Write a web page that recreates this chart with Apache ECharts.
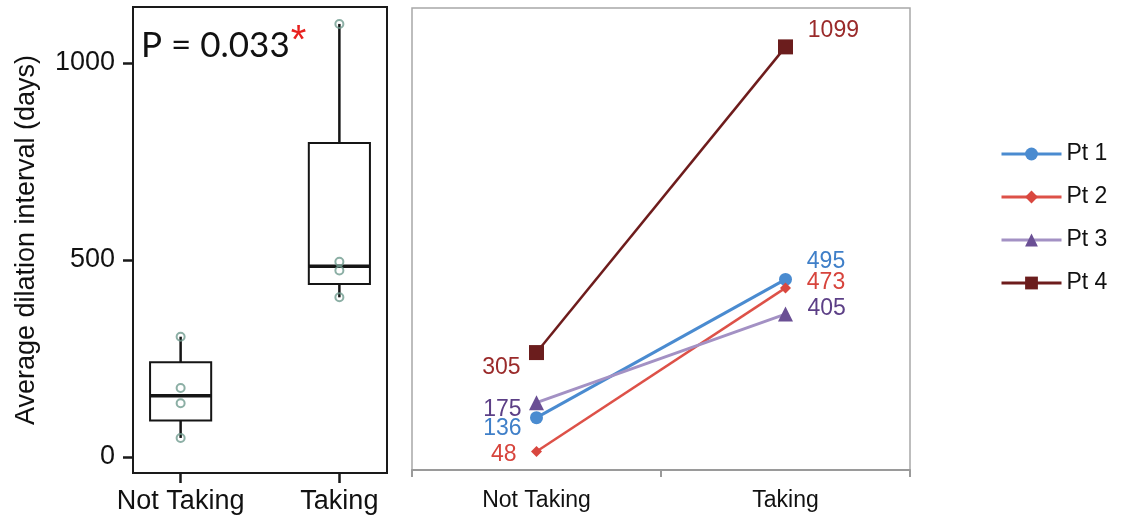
<!DOCTYPE html>
<html>
<head>
<meta charset="utf-8">
<script src="https://cdn.jsdelivr.net/npm/echarts@6/dist/echarts.min.js"></script>
<style>
html,body{margin:0;padding:0;background:#fff;}
#chart{width:1124px;height:527px;}
</style>
</head>
<body>
<div id="chart"></div>
<script>
// ---- data ----
const groups = ['Not Taking', 'Taking'];
const yTicks = [0, 500, 1000];
// box statistics: [min, Q1, median, Q3, max]
const boxNotTaking = [48, 92, 155, 240, 305];
const boxTaking = [405, 439, 484, 797, 1099];
// individual points
const pointsNotTaking = [305, 175, 136, 48];
const pointsTaking = [1099, 495, 473, 405];
// per patient
const patients = ['Pt 1', 'Pt 2', 'Pt 3', 'Pt 4'];
const pt1 = [136, 495];
const pt2 = [48, 473];
const pt3 = [175, 405];
const pt4 = [305, 1099];

const FONT = 'Liberation Sans, Arial, sans-serif';

const chart = echarts.init(document.getElementById('chart'));

function mkLabels(values, color, offs) {
  return values.map((v, i) => ({
    value: v,
    label: {
      show: true,
      position: i === 0 ? 'left' : 'right',
      distance: 0,
      offset: offs[i],
      color: color,
      fontSize: 23,
      fontFamily: FONT
    }
  }));
}

function patientSeries(name, values, lineColor, symColor, symbol, size, lw, labelColor, offs) {
  return {
    name: name,
    type: 'line',
    xAxisIndex: 1,
    yAxisIndex: 1,
    data: mkLabels(values, labelColor, offs),
    symbol: symbol,
    symbolSize: size,
    showAllSymbol: true,
    lineStyle: { color: lineColor, width: lw },
    itemStyle: { color: symColor },
    emphasis: { disabled: true },
    z: 3
  };
}

const option = {
  animation: false,
  backgroundColor: '#fff',
  title: {
    text: '{a|P = 0.033}{b|*}',
    left: 136,
    top: 17,
    textStyle: {
      fontWeight: 'normal',
      rich: {
        a: { fontSize: 35, fontFamily: 'Lato, sans-serif', fontWeight: 'normal', color: '#111' },
        b: { fontSize: 40, fontFamily: FONT, fontWeight: 'normal', color: '#e8201e', verticalAlign: 'top', padding: [0, 0, 8, 1] }
      }
    }
  },
  legend: {
    orient: 'vertical',
    left: 995,
    top: 137,
    itemWidth: 60,
    itemHeight: 16,
    itemGap: 19,
    data: patients,
    lineStyle: { width: 3 },
    textStyle: { fontSize: 23, fontFamily: FONT, color: '#111', lineHeight: 24 },
    selectedMode: false
  },
  grid: [
    { left: 133, top: 7, width: 254, height: 466, show: true, borderColor: '#1a1a1a', borderWidth: 2, backgroundColor: 'transparent' },
    { left: 412, top: 8, width: 498, height: 462, show: true, borderColor: '#a8a8a8', borderWidth: 1.5, backgroundColor: 'transparent' }
  ],
  xAxis: [
    {
      gridIndex: 0, type: 'value', min: 0.7, max: 2.3,
      axisLine: { show: true, onZero: false, lineStyle: { color: '#1a1a1a', width: 2 } },
      splitLine: { show: false },
      axisTick: { show: true, customValues: [1, 2], length: 10, lineStyle: { color: '#1a1a1a', width: 2.5 } },
      axisLabel: { customValues: [1, 2], formatter: v => groups[Math.round(v) - 1], fontSize: 27, fontFamily: FONT, color: '#111', margin: 15 }
    },
    {
      gridIndex: 1, type: 'category', data: groups, boundaryGap: true,
      axisLine: { show: true, onZero: false, lineStyle: { color: '#9a9a9a', width: 2 } },
      axisTick: { show: true, length: 7, lineStyle: { color: '#9a9a9a', width: 2 } },
      axisLabel: { fontSize: 23, fontFamily: FONT, color: '#111', margin: 19 },
      splitLine: { show: false }
    }
  ],
  yAxis: [
    {
      gridIndex: 0, type: 'value', min: -41, max: 1142,
      name: 'Average dilation interval (days)',
      nameLocation: 'middle', nameRotate: 90, nameGap: 93,
      nameTextStyle: { fontSize: 27, fontFamily: FONT, color: '#111' },
      axisLine: { show: true, onZero: false, lineStyle: { color: '#1a1a1a', width: 2 } },
      splitLine: { show: false },
      axisTick: { show: true, customValues: yTicks, length: 10, lineStyle: { color: '#1a1a1a', width: 2.5 } },
      axisLabel: { customValues: yTicks, formatter: v => String(v), fontSize: 27, fontFamily: FONT, color: '#111', margin: 18 }
    },
    {
      gridIndex: 1, type: 'value', min: 0, max: 1200, show: false,
      splitLine: { show: false }
    }
  ],
  series: [
    {
      type: 'custom',
      xAxisIndex: 0, yAxisIndex: 0,
      data: [[1].concat(boxNotTaking), [2].concat(boxTaking)],
      renderItem: function (params, api) {
        const x = api.value(0);
        const pMin = api.coord([x, api.value(1)]);
        const pQ1 = api.coord([x, api.value(2)]);
        const pMed = api.coord([x, api.value(3)]);
        const pQ3 = api.coord([x, api.value(4)]);
        const pMax = api.coord([x, api.value(5)]);
        const w = api.size([0.385, 0])[0];
        const cx = pMed[0];
        const stroke = '#151515';
        return {
          type: 'group',
          children: [
            { type: 'line', shape: { x1: cx, y1: pMin[1], x2: cx, y2: pQ1[1] }, style: { stroke: stroke, lineWidth: 2.5 } },
            { type: 'line', shape: { x1: cx, y1: pQ3[1], x2: cx, y2: pMax[1] }, style: { stroke: stroke, lineWidth: 2.5 } },
            { type: 'rect', shape: { x: cx - w / 2, y: pQ3[1], width: w, height: pQ1[1] - pQ3[1] }, style: { fill: 'none', stroke: stroke, lineWidth: 2 } },
            { type: 'line', shape: { x1: cx - w / 2, y1: pMed[1], x2: cx + w / 2, y2: pMed[1] }, style: { stroke: stroke, lineWidth: 3.5 } }
          ]
        };
      },
      z: 2
    },
    {
      type: 'scatter',
      xAxisIndex: 0, yAxisIndex: 0,
      data: pointsNotTaking.map(v => [1, v]).concat(pointsTaking.map(v => [2, v])),
      symbol: 'circle',
      symbolSize: 8,
      itemStyle: { color: 'rgba(255,255,255,0)', borderColor: '#6f9b8e', borderWidth: 2 },
      emphasis: { disabled: true },
      z: 4
    },
    patientSeries('Pt 1', pt1, '#4a8bd0', '#4a8bd0', 'circle', 13, 3, '#3f7fc8', [[-8.5, 11.5], [14.8, -18]]),
    patientSeries('Pt 2', pt2, '#dd5148', '#d9473f', 'diamond', 11, 2.5, '#d7443c', [[-14.5, 3], [15.8, -5]]),
    patientSeries('Pt 3', pt3, '#a391c4', '#6a4f94', 'triangle', 15, 3, '#5c3f86', [[-7.5, 7.5], [14.5, -5.3]]),
    patientSeries('Pt 4', pt4, '#6e1c1c', '#6b1d1d', 'rect', 15, 2.5, '#9a2a2a', [[-8.5, 15], [14.8, -16.5]])
  ]
};

chart.setOption(option);
</script>
</body>
</html>
